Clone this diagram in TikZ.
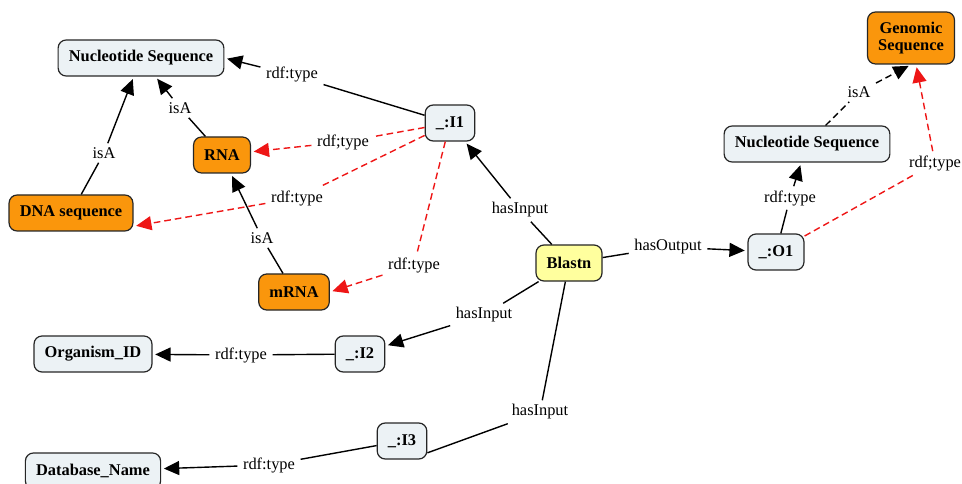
\documentclass[tikz,border=0pt]{standalone}
\usepackage{fontspec}
\setmainfont{Liberation Serif}
\usetikzlibrary{arrows.meta}

\definecolor{clsfill}{RGB}{236,242,245}
\definecolor{termfill}{RGB}{250,150,12}
\definecolor{toolfill}{RGB}{255,255,158}
\definecolor{typered}{RGB}{238,22,22}

\begin{document}
\begin{tikzpicture}[x=0.75pt,y=-0.75pt,
	concept/.style={draw=black!85,line width=0.9pt,rounded corners=6pt,inner xsep=8pt,
		minimum height=27pt,align=center,font=\fontsize{12.3}{13}\selectfont\bfseries},
	cls/.style={concept,fill=clsfill},
	term/.style={concept,fill=termfill},
	tool/.style={concept,fill=toolfill},
	rel/.style={inner xsep=4pt,inner ysep=3pt,font=\fontsize{12.3}{14}\selectfont},
	link/.style={line width=1.05pt},
	arr/.style={link,shorten >=2pt,-{Triangle[length=11.5pt,width=10.5pt]}},
	dlink/.style={link,dash pattern=on 5pt off 3pt},
	darr/.style={dlink,shorten >=2pt,-{Triangle[length=11.5pt,width=10.5pt]}},
	rlink/.style={dlink,typered},
	rarr/.style={darr,typered}]

	\useasboundingbox (0,0) rectangle (962,484);

	\node[cls]  (ns1)      at (141,58)  {Nucleotide Sequence};
	\node[cls]  (i1)       at (450,123) {\_:I1};
	\node[term] (rna)      at (222,155) {RNA};
	\node[term] (dna)      at (71,213)  {DNA sequence};
	\node[term] (mrna)     at (294,292) {mRNA};
	\node[tool] (blastn)   at (569,263) {Blastn};
	\node[cls]  (o1)       at (776,252) {\_:O1};
	\node[cls]  (ns2)      at (807,144) {Nucleotide Sequence};
	\node[term,minimum height=39pt] (genomic) at (911,38) {Genomic\\Sequence};
	\node[cls]  (i2)       at (360,354) {\_:I2};
	\node[cls]  (i3)       at (402,441) {\_:I3};
	\node[cls]  (organism) at (93,354)  {Organism\_ID};
	\node[cls]  (database) at (93,471)  {Database\_Name};

	\node[rel] (i1type)    at (292,75)  {rdf:type};
	\node[rel] (rnaisa)    at (180,108) {isA};
	\node[rel] (dnaisa)    at (104,153) {isA};
	\node[rel] (i1rna)     at (343,142) {rdf;type};
	\node[rel] (i1dna)     at (297,198) {rdf:type};
	\node[rel] (i1mrna)    at (414,265) {rdf:type};
	\node[rel] (mrnaisa)   at (262,238) {isA};
	\node[rel] (input1)    at (520,210) {hasInput};
	\node[rel] (output1)   at (668,247) {hasOutput};
	\node[rel] (o1type)    at (790,198) {rdf:type};
	\node[rel] (ns2isa)    at (859,92)  {isA};
	\node[rel] (o1genomic) at (935,163) {rdf;type};
	\node[rel] (input2)    at (484,315) {hasInput};
	\node[rel] (i2type)    at (241,355) {rdf:type};
	\node[rel] (input3)    at (540,412) {hasInput};
	\node[rel] (i3type)    at (269,465) {rdf:type};

	\draw[link] (i1) -- (i1type);
	\draw[arr] (i1type) -- (ns1.east);
	\draw[link] (rna) -- (rnaisa);
	\draw[arr] (rnaisa) -- (ns1);
	\draw[link] (dna) -- (dnaisa);
	\draw[arr] (dnaisa) -- (ns1);
	\draw[link] (mrna) -- (mrnaisa);
	\draw[arr] (mrnaisa) -- (rna);

	\draw[rlink] (i1) -- (i1rna);
	\draw[rarr] (i1rna) -- (rna);
	\draw[rlink] (i1) -- (i1dna);
	\draw[rarr] (i1dna) -- (dna.-12);
	\draw[rlink] (i1) -- (i1mrna);
	\draw[rarr] (i1mrna) -- (mrna.east);

	\draw[link] (blastn) -- (input1);
	\draw[arr] (input1) -- (i1);
	\draw[link] (blastn) -- (output1);
	\draw[arr] (output1) -- (o1);
	\draw[link] (blastn) -- (input2);
	\draw[arr] (input2) -- (i2);
	\draw[link] (blastn) -- (input3);
	\draw[link] (input3) -- (i3.-25);

	\draw[link] (o1) -- (o1type);
	\draw[arr] (o1type) -- (ns2);
	\draw[dlink] (ns2) -- (ns2isa);
	\draw[darr] (ns2isa) -- (genomic.south);
	\draw[rlink] (o1) -- (o1genomic);
	\draw[rarr] (o1genomic) -- (genomic);

	\draw[link] (i2) -- (i2type);
	\draw[arr] (i2type) -- (organism);
	\draw[link] (i3) -- (i3type);
	\draw[arr] (i3type) -- (database);
\end{tikzpicture}
\end{document}
